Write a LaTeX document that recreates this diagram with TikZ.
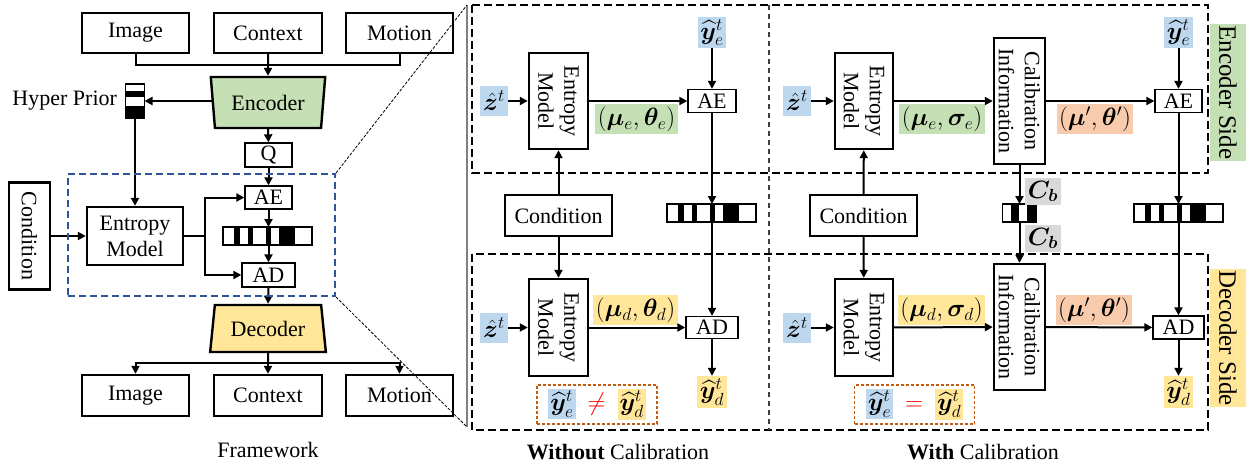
\RequirePackage{fix-cm}
\documentclass[tikz,border=0pt]{standalone}
\usepackage{amsmath, amssymb, bm}
\usepackage{fontspec}
\setmainfont{Liberation Serif}
\usepackage{tikz}
\usetikzlibrary{arrows.meta, shapes.geometric, positioning, calc}

\definecolor{encgreen}{HTML}{C5E0B4}
\definecolor{decyellow}{HTML}{FFE699}
\definecolor{lblue}{HTML}{BDD7EE}
\definecolor{lorange}{HTML}{F8CBAD}
\definecolor{lgray}{HTML}{D9D9D9}
\definecolor{focusblue}{HTML}{2F5597}
\definecolor{cmporange}{HTML}{C55A11}

% bitstream stripes: node name, list of from/to offsets
\newcommand{\hstripes}[2]{\foreach \a/\b in {#2} \fill ([xshift=\a pt]#1.north west) rectangle ([xshift=\b pt]#1.south west);}
\newcommand{\vstripes}[2]{\foreach \a/\b in {#2} \fill ([yshift=-\a pt]#1.north west) rectangle ([yshift=-\b pt]#1.north east);}
\newcommand{\yhat}[1]{\widehat{\bm y}^t_{#1}}

\begin{document}
\begin{tikzpicture}[x=1pt, y=-1pt, >=Stealth,
    every node/.style={font=\fontsize{22}{26}\selectfont},
    box/.style={draw, line width=2.4pt, fill=white, inner sep=0pt, align=center},
    vbox/.style={box, rotate=-90},
    opbox/.style={draw, line width=1.3pt, fill=white, inner sep=0pt},
    bar/.style={draw, line width=1.3pt, fill=white, inner sep=0pt, outer sep=0pt, minimum height=18pt},
    lab/.style={fill=#1, inner sep=2.5pt, minimum height=30pt, font=\fontsize{25}{30}\selectfont},
    arr/.style={line width=2pt, -{Triangle[length=8pt, width=8pt]}},
    conn/.style={line width=2pt},
    sidebox/.style={line width=2.4pt, dash pattern=on 8pt off 4pt},
    cmp/.style={draw=cmporange, line width=1.1pt, dash pattern=on 3pt off 2pt, inner sep=3pt,
                minimum width=120pt, minimum height=39pt, font=\fontsize{25}{30}\selectfont}]
\useasboundingbox (0,0) rectangle (1248,463);
\setlength{\fboxsep}{2pt}

% ---------- framework ----------
\node[box, minimum width=107pt, minimum height=40pt] (imgT) at (135.5,33) {Image};
\node[box, minimum width=108pt, minimum height=40pt] (ctxT) at (268,33) {Context};
\node[box, minimum width=107pt, minimum height=40pt] (motT) at (399.5,33) {Motion};
\coordinate (jn) at (268,65);
\draw[conn] (imgT.south) |- (jn) -| (motT.south);
\node[trapezium, trapezium angle=79.5, trapezium stretches, shape border rotate=180,
      draw, line width=2.4pt, fill=encgreen, inner sep=0pt,
      minimum width=115pt, minimum height=51pt] (enc) at (268,102.5) {Encoder};
\draw[arr] (ctxT.south) -- (enc.north);

\node[draw, line width=1.3pt, fill=white, inner sep=0pt, outer sep=0pt,
      minimum width=19pt, minimum height=34pt] (hp) at (135,101) {};
\vstripes{hp}{7/13,22/34}
\node[left=5pt of hp] (hpl) {Hyper Prior};
\draw[arr] (enc.west |- hp) -- (hp);

\node[opbox, minimum width=47pt, minimum height=24pt] (q) at (268.5,155) {Q};
\node[opbox, minimum width=47pt, minimum height=23pt] (aeL) at (268.5,197.5) {AE};
\node[bar, minimum width=89pt] (barL) at (267.5,236) {};
\hstripes{barL}{11/17,25/30,43/48,56/72}
\node[opbox, minimum width=53pt, minimum height=24pt] (adL) at (268.5,275) {AD};
\node[box, minimum width=96pt, minimum height=58pt] (emL) at (135,236) {Entropy\\Model};
\node[vbox, minimum width=107pt, minimum height=41pt] (condL) at (29.5,236) {Condition};
\coordinate (split) at (205,236);

\draw[arr] (enc.south) -- (q.north);
\draw[arr] (q.south) -- (aeL.north);
\draw[arr] (aeL.south) -- (barL.north -| aeL);
\draw[arr] (barL.south -| adL) -- (adL.north);
\draw[arr] (hp.south) -- (emL.north);
\draw[arr] (condL) -- (emL);
\draw[conn] (emL.east) -- (split);
\draw[arr] (split) |- (aeL.west);
\draw[arr] (split) |- (adL.west);

\node[trapezium, trapezium angle=78, trapezium stretches,
      draw, line width=2.4pt, fill=decyellow, inner sep=0pt,
      minimum width=116pt, minimum height=47pt] (dec) at (268,328.5) {Decoder};
\draw[arr] (adL.south) -- (dec.north);
\node[box, minimum width=107pt, minimum height=41pt] (imgB) at (135.5,395.5) {Image};
\node[box, minimum width=108pt, minimum height=41pt] (ctxB) at (268,395.5) {Context};
\node[box, minimum width=107pt, minimum height=41pt] (motB) at (399.5,395.5) {Motion};
\coordinate (jd) at (268,363);
\draw[conn] (dec.south) -- (jd);
\draw[arr] (jd) -| (imgB.north);
\draw[arr] (jd) -| (motB.north);
\draw[arr] (jd) -- (ctxB.north);
\node (fw) at (268,450) {Framework};

% focus box and zoom lines
\node[draw=focusblue, line width=2.2pt, dash pattern=on 7pt off 4pt, inner sep=0pt,
      minimum width=267pt, minimum height=122pt] (focus) at (201.5,235) {};
\coordinate (pt) at (467,5);
\coordinate (pb) at (467,427);
\draw[gray, line width=1.2pt] (pt) -- (pb);
\draw[line width=0.8pt, dash pattern=on 3pt off 1.5pt] (focus.north east) -- (pt);
\draw[line width=0.8pt, dash pattern=on 3pt off 1.5pt] (focus.south east) -- (pb);

% ---------- panels ----------
\draw[sidebox] (472,5) rectangle (1208,173);
\draw[sidebox] (472,254) rectangle (1208,430);
\draw[line width=1.2pt, dash pattern=on 5pt off 4pt, black!75] (769,5) -- (769,430);

% without calibration
\node[lab=lblue, minimum width=28pt] (zA1) at (494,101) {$\hat{\bm z}^t$};
\node[vbox, minimum width=96pt, minimum height=59pt] (emA1) at (558.5,101) {Entropy\\Model};
\node[opbox, minimum width=48pt, minimum height=23pt] (aeA) at (712,101) {AE};
\node[lab=lblue] (yeA) at (712,32.5) {$\yhat{e}$};
\node[lab=encgreen] (pA1) at (636.5,119) {$(\bm\mu_e,\bm\theta_e)$};
\node[bar, minimum width=89pt] (barA) at (711.5,213) {};
\hstripes{barA}{11/17,25/30,43/48,56/72}
\node[box, minimum width=107pt, minimum height=41pt] (condA) at (558.5,215.5) {Condition};
\node[vbox, minimum width=97pt, minimum height=59pt] (emA2) at (558.5,327.5) {Entropy\\Model};
\node[lab=lblue, minimum width=28pt] (zA2) at (494,327.5) {$\hat{\bm z}^t$};
\node[opbox, minimum width=52pt, minimum height=22pt] (adA) at (712,327.5) {AD};
\node[lab=decyellow] (pA2) at (635.5,310) {$(\bm\mu_d,\bm\theta_d)$};
\node[lab=decyellow] (ydA) at (712,392) {$\yhat{d}$};
\node[cmp] (cmpA) at (597,404.5) {\colorbox{lblue}{$\yhat{e}$}\hspace{12pt}\textcolor{red}{$\neq$}\hspace{12pt}\colorbox{decyellow}{$\yhat{d}$}};
\node (capA) at (618,452) {\textbf{Without} Calibration};

\draw[arr] (zA1) -- (emA1);
\draw[arr] (emA1) -- (aeA);
\draw[arr] (yeA) -- (aeA);
\draw[arr] (aeA) -- (barA.north -| aeA);
\draw[arr] (barA.south -| adA) -- (adA.north);
\draw[arr] (condA) -- (emA1);
\draw[arr] (condA) -- (emA2);
\draw[arr] (zA2) -- (emA2);
\draw[arr] (emA2) -- (adA);
\draw[arr] (adA) -- (ydA);

% with calibration
\node[lab=lblue, minimum width=28pt] (zB1) at (797,101) {$\hat{\bm z}^t$};
\node[vbox, minimum width=96pt, minimum height=58pt] (emB1) at (864,101) {Entropy\\Model};
\node[vbox, minimum width=126pt, minimum height=51pt] (ciB1) at (1019.5,101) {Calibration\\Information};
\node[lab=encgreen] (pB1) at (942,119) {$(\bm\mu_e,\bm\sigma_e)$};
\node[lab=lorange] (pB2) at (1095,119) {$(\bm\mu',\bm\theta')$};
\node[opbox, minimum width=47pt, minimum height=23pt] (aeB) at (1178.5,101) {AE};
\node[lab=lblue] (yeB) at (1178.5,32.5) {$\yhat{e}$};
\node[bar, minimum width=89pt] (barB) at (1178.5,213) {};
\hstripes{barB}{11/17,25/30,43/48,56/72}
\node[bar, minimum width=34pt] (sbar) at (1019.5,213) {};
\hstripes{sbar}{8/16,24/34}
\node[lab=lgray, minimum height=27pt] (cb1) at (1043,191.5) {$\bm C_{\bm b}$};
\node[lab=lgray, minimum height=27pt] (cb2) at (1043,238.5) {$\bm C_{\bm b}$};
\node[box, minimum width=107pt, minimum height=41pt] (condB) at (863.5,215.5) {Condition};
\node[vbox, minimum width=97pt, minimum height=58pt] (emB2) at (864,327.5) {Entropy\\Model};
\node[lab=lblue, minimum width=28pt] (zB2) at (797,327.5) {$\hat{\bm z}^t$};
\node[vbox, minimum width=126pt, minimum height=51pt] (ciB2) at (1019.5,327) {Calibration\\Information};
\node[lab=decyellow] (pB3) at (941.5,310) {$(\bm\mu_d,\bm\sigma_d)$};
\node[lab=lorange] (pB4) at (1094,310) {$(\bm\mu',\bm\theta')$};
\node[opbox, minimum width=51pt, minimum height=23pt] (adB) at (1178.5,327.5) {AD};
\node[lab=decyellow] (ydB) at (1178.5,392) {$\yhat{d}$};
\node[cmp] (cmpB) at (914.5,404.5) {\colorbox{lblue}{$\yhat{e}$}\hspace{12pt}\textcolor{red}{$=$}\hspace{12pt}\colorbox{decyellow}{$\yhat{d}$}};
\node (capB) at (983,452) {\textbf{With} Calibration};

\draw[arr] (zB1) -- (emB1);
\draw[arr] (emB1) -- (ciB1);
\draw[arr] (ciB1) -- (aeB);
\draw[arr] (yeB) -- (aeB);
\draw[arr] (aeB) -- (barB.north -| aeB);
\draw[arr] (barB.south -| adB) -- (adB.north);
\draw[arr] (ciB1) -- (sbar);
\draw[arr] (sbar) -- (ciB2);
\draw[arr] (condB) -- (emB1);
\draw[arr] (condB) -- (emB2);
\draw[arr] (zB2) -- (emB2);
\draw[arr] (emB2) -- (ciB2);
\draw[arr] (ciB2) -- (adB);
\draw[arr] (adB) -- (ydB);

\node[lab=encgreen, rotate=-90, inner sep=0pt, minimum width=137pt, minimum height=36pt] (encS) at (1228,92.5) {Encoder Side};
\node[lab=decyellow, rotate=-90, inner sep=0pt, minimum width=138pt, minimum height=36pt] (decS) at (1228,338) {Decoder Side};
\end{tikzpicture}
\end{document}
